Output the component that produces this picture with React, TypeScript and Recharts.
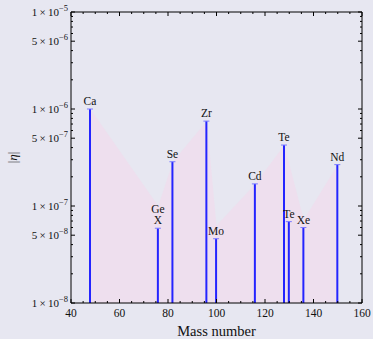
import { Area, Bar, ComposedChart, XAxis, YAxis } from 'recharts';

const labels = ['Ca', 'Ge\nX', 'Se', 'Zr', 'Mo', 'Cd', 'Te', 'Te', 'Xe', 'Nd'];
const massNumbers = [48, 76, 82, 96, 100, 116, 128, 130, 136, 150];
const etaLimits = [1.0e-6, 5.9e-8, 2.86e-7, 7.5e-7, 4.6e-8, 1.69e-7, 4.25e-7, 6.9e-8, 6.0e-8, 2.67e-7];
const bandLimits = [1.0e-6, 1.0e-7, 2.86e-7, 7.5e-7, 6.3e-8, 1.69e-7, 4.25e-7, null, 7.2e-8, 2.67e-7];
const xMajorTicks = [40, 60, 80, 100, 120, 140, 160];
const yMajorTicks = [1e-8, 5e-8, 1e-7, 5e-7, 1e-6, 5e-6, 1e-5];

const data = massNumbers.map((mass, i) => ({
  mass,
  eta: etaLimits[i],
  band: bandLimits[i],
  label: labels[i],
}));

// minor ticks: every 5 on x, 2..9 per decade on y
const xTicks: number[] = [];
for (let v = 40; v <= 160; v += 5) xTicks.push(v);
const yTicks: number[] = [];
for (let e = -8; e < -5; e++) {
  for (let m = 1; m <= 9; m++) yTicks.push(Number((m * Math.pow(10, e)).toPrecision(3)));
}
yTicks.push(1e-5);

const FONT = '"Liberation Serif", "Times New Roman", serif';
const isMajorY = (v: number) => yMajorTicks.some((t) => Math.abs(t - v) / t < 1e-6);
const isMajorX = (v: number) => xMajorTicks.includes(v);

const BottomTick = ({ x, y, payload }: any) => {
  const major = isMajorX(payload.value);
  return (
    <g>
      <line x1={x} x2={x} y1={y} y2={y - (major ? 4 : 2)} stroke="#000" />
      {major && (
        <text x={x} y={y + 14} textAnchor="middle" fontSize={11.5} fontFamily={FONT} fill="#111">
          {payload.value}
        </text>
      )}
    </g>
  );
};

const TopTick = ({ x, y, payload }: any) => {
  const major = isMajorX(payload.value);
  return <line x1={x} x2={x} y1={y} y2={y + (major ? 4 : 2)} stroke="#000" />;
};

const LeftTick = ({ x, y, payload }: any) => {
  const v = payload.value;
  const major = isMajorY(v);
  const exp = Math.floor(Math.log10(v) + 1e-9);
  const mant = Math.round(v / Math.pow(10, exp));
  return (
    <g>
      <line x1={x} x2={x + (major ? 4 : 2)} y1={y} y2={y} stroke="#000" />
      {major && (
        <text x={x - 3} y={y + 4} textAnchor="end" fontSize={11} fontFamily={FONT} fill="#111">
          {mant}{'\u2009×\u2009'}10
          <tspan dy={-5} fontSize={8.5}>{'\u2212' + Math.abs(exp)}</tspan>
        </text>
      )}
    </g>
  );
};

const RightTick = ({ x, y, payload }: any) => {
  const major = isMajorY(payload.value);
  return <line x1={x} x2={x - (major ? 4 : 2)} y1={y} y2={y} stroke="#000" />;
};

const Stem = (props: any) => {
  const { x, y, width, height, payload } = props;
  const cx = x + width / 2;
  const lines: string[] = String(payload.label).split('\n');
  return (
    <g>
      <line x1={cx} x2={cx} y1={y} y2={y + height} stroke="#2424ff" strokeWidth={2} />
      <line x1={cx - 3} x2={cx + 3} y1={y} y2={y} stroke="#7a7aff" strokeWidth={1} />
      {lines.map((t, i) => (
        <text
          key={i}
          x={cx}
          y={y - 4 - (lines.length - 1 - i) * 11.5}
          textAnchor="middle"
          fontSize={11.5}
          fontFamily={FONT}
          fill="#111"
        >
          {t}
        </text>
      ))}
    </g>
  );
};

export default function App() {
  return (
    <div style={{ position: 'absolute', left: 0, top: 0, width: 373, height: 339, background: '#e7e7f1' }}>
      <ComposedChart width={373} height={339} data={data} margin={{ top: 0, right: 0, bottom: 0, left: 0 }}>
        <XAxis
          xAxisId="bottom"
          dataKey="mass"
          type="number"
          domain={[40, 160]}
          allowDataOverflow
          ticks={xTicks}
          interval={0}
          height={36}
          tickSize={0}
          tickMargin={0}
          tickLine={false}
          tick={<BottomTick />}
          axisLine={{ stroke: '#000' }}
          label={({ viewBox }: any) => (
            <text
              x={viewBox.x + viewBox.width / 2}
              y={viewBox.y + viewBox.height - 3}
              textAnchor="middle"
              fontSize={14.5}
              fontFamily={FONT}
              fill="#111"
            >
              Mass number
            </text>
          )}
        />
        <XAxis
          xAxisId="top"
          orientation="top"
          dataKey="mass"
          type="number"
          domain={[40, 160]}
          allowDataOverflow
          ticks={xTicks}
          interval={0}
          height={12}
          tickSize={0}
          tickMargin={0}
          tickLine={false}
          tick={<TopTick />}
          axisLine={{ stroke: '#000' }}
        />
        <YAxis
          yAxisId="left"
          scale="log"
          type="number"
          domain={[1e-8, 1e-5]}
          allowDataOverflow
          ticks={yTicks}
          interval={0}
          width={71}
          tickSize={0}
          tickMargin={0}
          tickLine={false}
          tick={<LeftTick />}
          axisLine={{ stroke: '#000' }}
          label={({ viewBox }: any) => (
            <text
              x={17}
              y={viewBox.y + viewBox.height / 2}
              transform={`rotate(-90 17 ${viewBox.y + viewBox.height / 2})`}
              textAnchor="middle"
              fontSize={13}
              fontFamily={FONT}
              fill="#111"
            >
              |<tspan fontStyle="italic">η</tspan>|
            </text>
          )}
        />
        <YAxis
          yAxisId="right"
          orientation="right"
          scale="log"
          type="number"
          domain={[1e-8, 1e-5]}
          allowDataOverflow
          ticks={yTicks}
          interval={0}
          width={11}
          tickSize={0}
          tickMargin={0}
          tickLine={false}
          tick={<RightTick />}
          axisLine={{ stroke: '#000' }}
        />
        <Area
          xAxisId="bottom"
          yAxisId="left"
          dataKey="band"
          type="linear"
          stroke="none"
          fill="#eedfee"
          fillOpacity={1}
          connectNulls
          baseValue="dataMin"
          isAnimationActive={false}
        />
        <Bar
          xAxisId="bottom"
          yAxisId="left"
          dataKey="eta"
          barSize={2}
          shape={<Stem />}
          isAnimationActive={false}
        />
      </ComposedChart>
    </div>
  );
}
